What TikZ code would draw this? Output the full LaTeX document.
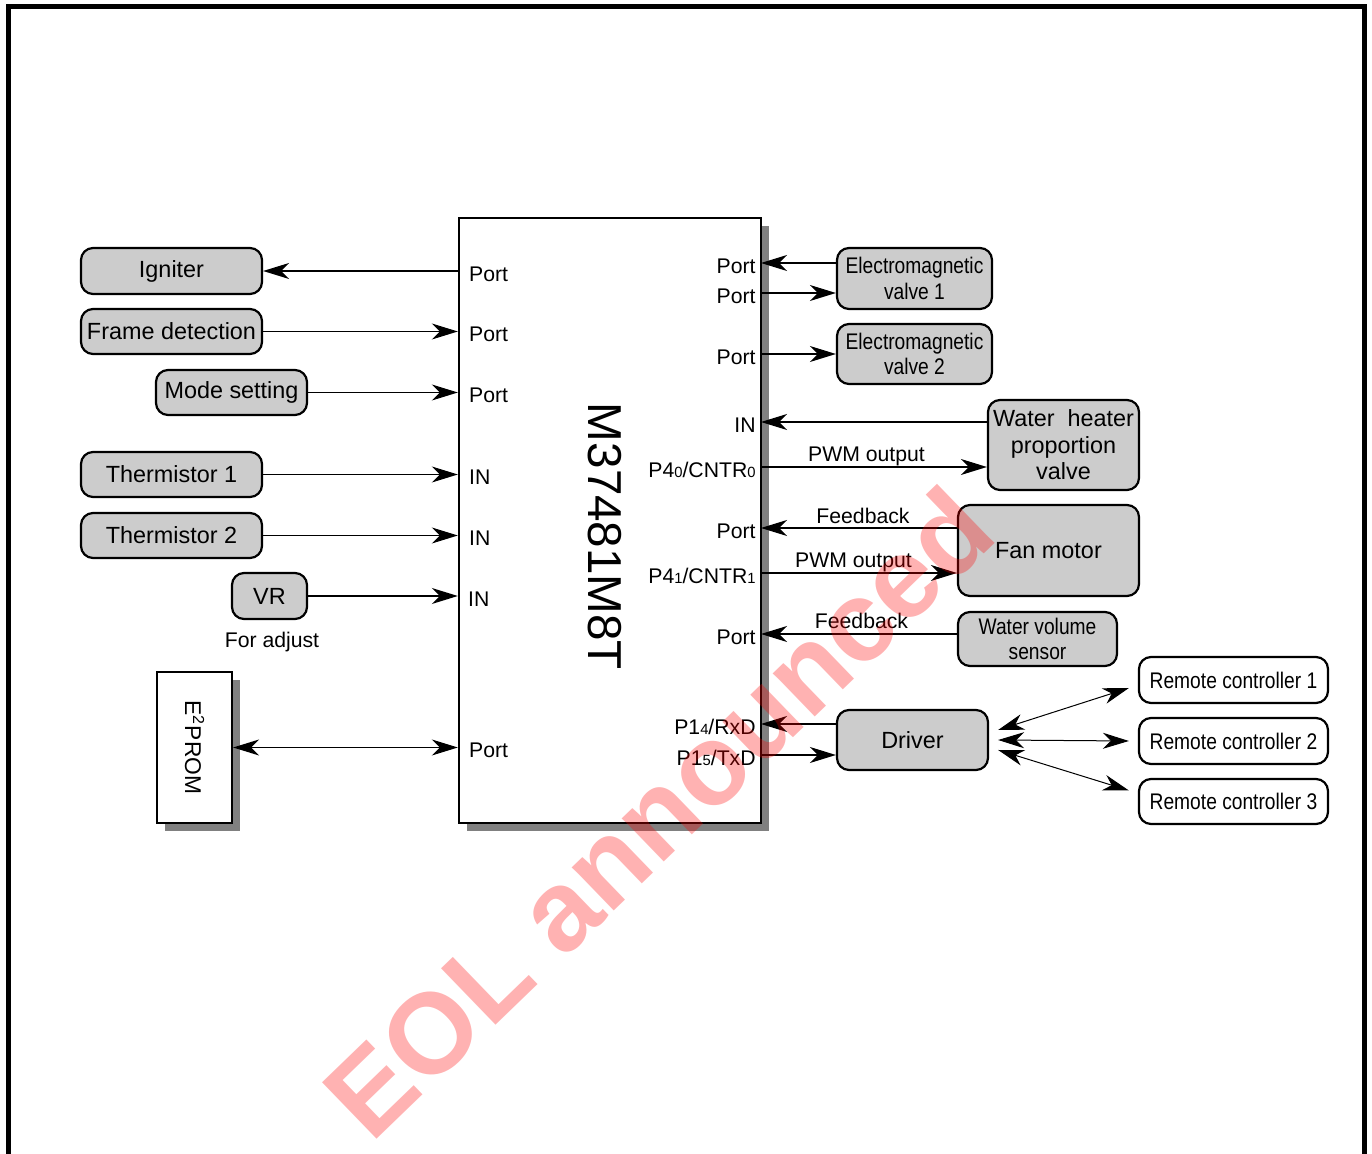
\documentclass[tikz,border=0pt]{standalone}
\usepackage{fontspec}
\setmainfont{Liberation Sans}
\newfontfamily\narrowfont[FakeStretch=0.85]{Liberation Sans}
\usetikzlibrary{arrows.meta,shadows}

\newcommand{\sub}[1]{{\fontsize{7.4}{8}\selectfont #1}}

\tikzset{
  unit/.style={draw, line width=1.1pt, rounded corners=6pt, fill=gray!40,
    align=center, inner sep=0pt, font=\fontsize{11.7}{13.2}\selectfont},
  unitn/.style={unit, font=\narrowfont\fontsize{11.3}{12.8}\selectfont},
  remote/.style={unitn, fill=white},
  chipbox/.style={draw, line width=1.2pt, fill=white, inner sep=0pt,
    drop shadow={shadow xshift=4pt, shadow yshift=-4pt, fill=gray, opacity=1}},
  wire/.style={line width=0.65pt},
  llab/.style={anchor=base west, xshift=5.5pt, yshift=-5.25pt, inner sep=0pt,
    font=\fontsize{10.6}{12}\selectfont},
  rlab/.style={anchor=base east, xshift=-2.5pt, yshift=-5.25pt, inner sep=0pt,
    font=\fontsize{10.6}{12}\selectfont},
  sig/.style={anchor=base, inner sep=0pt, font=\fontsize{10.6}{12}\selectfont}
}

\begin{document}
\begin{tikzpicture}[x=0.5pt, y=-0.5pt, >={Stealth[length=13pt,width=8pt,inset=4pt]}]
\useasboundingbox (0,0) rectangle (1372,1154);
\draw[line width=2.5pt] (8.5,1170) -- (8.5,6.5) -- (1364.5,6.5) -- (1364.5,1170);

\node[chipbox, minimum width=151pt, minimum height=302.5pt] (chip) at (610,520.5) {};
\node[rotate=-90, inner sep=0pt, font=\fontsize{23.8}{24}\selectfont] (chipname) at (605,536.5) {M37481M8T};

% left side
\node[unit, minimum width=90.5pt, minimum height=23pt] (ign) at (171.5,271) {Igniter};
\node[unit, minimum width=90.5pt, minimum height=22.5pt] (frame) at (171.5,331.5) {Frame detection};
\node[unit, minimum width=75.5pt, minimum height=22.5pt] (mode) at (231.5,392.5) {Mode setting};
\node[unit, minimum width=90.5pt, minimum height=22.5pt] (th1) at (171.5,474.5) {Thermistor 1};
\node[unit, minimum width=90.5pt, minimum height=22.5pt] (th2) at (171.5,535.5) {Thermistor 2};
\node[unit, minimum width=37.5pt, minimum height=23pt] (vr) at (269.5,596) {VR};
\node[sig] (adj) at (272,648) {For adjust};
\node[chipbox, line width=1.1pt, minimum width=37.5pt, minimum height=75.5pt] (eep) at (194.5,747.5) {};
\node[rotate=-90, inner sep=0pt, font=\fontsize{11.4}{12}\selectfont] (eepname) at (eep) {E\textsuperscript{2}PROM};

\draw[wire,->] (ign.east -| chip.west) -- (ign.east);
\draw[wire,->] (frame.east) -- (frame.east -| chip.west);
\draw[wire,->] (mode.east) -- (mode.east -| chip.west);
\draw[wire,->] (th1.east) -- (th1.east -| chip.west);
\draw[wire,->] (th2.east) -- (th2.east -| chip.west);
\draw[wire,->] (vr.east) -- (vr.east -| chip.west);
\draw[wire,<->] (eep.east) -- (eep.east -| chip.west);

\node[llab] (lp1) at (ign.east -| chip.west) {Port};
\node[llab] (lp2) at (frame.east -| chip.west) {Port};
\node[llab] (lp3) at (mode.east -| chip.west) {Port};
\node[llab] (lp4) at (th1.east -| chip.west) {IN};
\node[llab] (lp5) at (th2.east -| chip.west) {IN};
\node[llab, xshift=-0.5pt] (lp6) at (vr.east -| chip.west) {IN};
\node[llab] (lp7) at (eep.east -| chip.west) {Port};

% right side
\node[unitn, minimum width=77.5pt, minimum height=30.5pt] (ev1) at (914.5,278.5) {Electromagnetic\\valve 1};
\node[unitn, minimum width=77.5pt, minimum height=30pt] (ev2) at (914.5,354) {Electromagnetic\\valve 2};
\node[unit, minimum width=75.5pt, minimum height=45pt] (whv) at (1063.5,445) {Water~~heater\\proportion\\valve};
\node[unit, minimum width=90.5pt, minimum height=45.5pt] (fan) at (1048.5,550.5) {Fan motor};
\node[unitn, minimum width=79.5pt, minimum height=27pt] (wvs) at (1037.5,639) {Water volume\\sensor};
\node[unit, minimum width=75.5pt, minimum height=30pt] (drv) at (912.5,740) {Driver};
\node[remote, minimum width=94.5pt, minimum height=23pt] (rc1) at (1233.5,680) {Remote controller 1};
\node[remote, minimum width=94.5pt, minimum height=23pt] (rc2) at (1233.5,741) {Remote controller 2};
\node[remote, minimum width=94.5pt, minimum height=22.5pt] (rc3) at (1233.5,801.5) {Remote controller 3};

\coordinate (r1) at (761,263);
\coordinate (r2) at (761,293);
\coordinate (r3) at (761,354);
\coordinate (r4) at (761,422);
\coordinate (r5) at (761,467);
\coordinate (r6) at (761,528);
\coordinate (r7) at (761,573);
\coordinate (r8) at (761,634);
\coordinate (r9) at (761,724);
\coordinate (r10) at (761,755);

\draw[wire,->] (ev1.west |- r1) -- (r1);
\draw[wire,->] (r2) -- (ev1.west |- r2);
\draw[wire,->] (r3) -- (ev2.west |- r3);
\draw[wire,->] (whv.west |- r4) -- (r4);
\draw[wire,->] (r5) -- (whv.west |- r5);
\draw[wire,->] (fan.west |- r6) -- (r6);
\draw[wire,->] (r7) -- (fan.west |- r7);
\draw[wire,->] (wvs.west |- r8) -- (r8);
\draw[wire,->] (drv.west |- r9) -- (r9);
\draw[wire,->] (r10) -- (drv.west |- r10);

\node[rlab] (rp1) at (r1) {Port};
\node[rlab] (rp2) at (r2) {Port};
\node[rlab] (rp3) at (r3) {Port};
\node[rlab] (rp4) at (r4) {IN};
\node[rlab] (rp5) at (r5) {P4\sub{0}/CNTR\sub{0}};
\node[rlab] (rp6) at (r6) {Port};
\node[rlab] (rp7) at (r7) {P4\sub{1}/CNTR\sub{1}};
\node[rlab] (rp8) at (r8) {Port};
\node[rlab] (rp9) at (r9) {P1\sub{4}/RxD};
\node[rlab] (rp10) at (r10) {P1\sub{5}/TxD};

\node[sig] (pwm0) at (866.5,462) {PWM output};
\node[sig] (fb0) at (863,524) {Feedback};
\node[sig] (pwm1) at (853.5,568) {PWM output};
\node[sig] (fb1) at (861.5,629) {Feedback};

\draw[line width=0.5pt,<->] ([shift={(9,-10)}]drv.east) -- ([shift={(-9,8)}]rc1.west);
\draw[line width=0.5pt,<->] ([shift={(9,0)}]drv.east) -- ([shift={(-9,0)}]rc2.west);
\draw[line width=0.5pt,<->] ([shift={(9,10)}]drv.east) -- ([shift={(-9,-11)}]rc3.west);

\node[rotate=44, inner sep=0pt, text=red, text opacity=0.3,
  font=\bfseries\fontsize{57}{57}\selectfont] (eol) at (658,812) {EOL announced};
\end{tikzpicture}
\end{document}
